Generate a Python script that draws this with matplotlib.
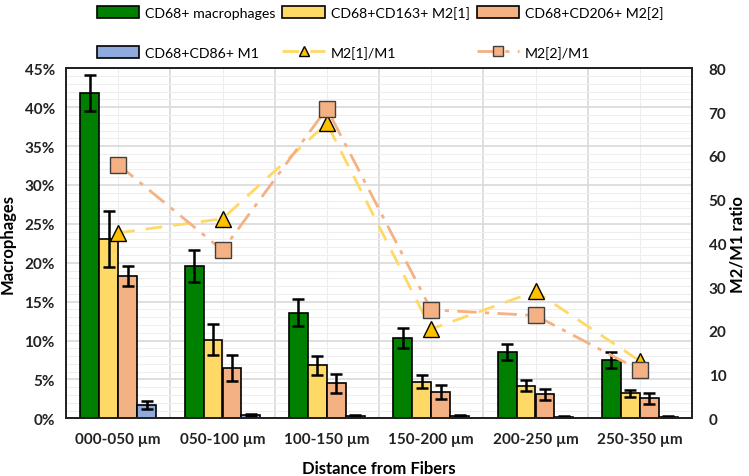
import numpy as np
import matplotlib.pyplot as plt
from matplotlib.ticker import MultipleLocator, PercentFormatter

plt.rcParams['font.family'] = ['Lato', 'DejaVu Sans']
plt.rcParams['font.weight'] = 'bold'

# data
groups = ["000-050 µm", "050-100 µm", "100-150 µm", "150-200 µm", "200-250 µm", "250-350 µm"]
cd68 = [41.8, 19.6, 13.6, 10.3, 8.5, 7.5]
cd68_err = [2.3, 2.1, 1.7, 1.3, 1.0, 1.0]
m2a = [23.1, 10.1, 6.8, 4.7, 4.2, 3.2]
m2a_err = [3.6, 2.0, 1.2, 0.85, 0.7, 0.45]
m2b = [18.3, 6.45, 4.5, 3.4, 3.1, 2.6]
m2b_err = [1.3, 1.7, 1.2, 0.9, 0.7, 0.7]
m1 = [1.7, 0.4, 0.3, 0.35, 0.2, 0.2]
m1_err = [0.55, 0.15, 0.1, 0.1, 0.05, 0.08]
ratio_a = [42.4, 45.6, 67.4, 20.4, 29.0, 13.1]
ratio_b = [58.0, 38.4, 70.8, 24.8, 23.5, 11.0]

green = "#008000"
yellow = "#FFD966"
orange = "#F4B183"
blue = "#8FAADC"

fig = plt.figure(figsize=(7.49, 4.77), dpi=100)
ax = fig.add_axes([66/749, 1-419.3/477, 626/749, 350/477])
ax2 = ax.twinx()

x = np.arange(len(groups))
w = 0.182
ekw = dict(elinewidth=1.8, capsize=4, capthick=1.8, ecolor="black")
b1 = ax.bar(x - 1.5*w, cd68, w, yerr=cd68_err, color=green, edgecolor="black", lw=1.2, error_kw=ekw, label="CD68+ macrophages", zorder=3)
b2 = ax.bar(x - 0.5*w, m2a, w, yerr=m2a_err, color=yellow, edgecolor="black", lw=1.2, error_kw=ekw, label="CD68+CD163+ M2[1]", zorder=3)
b3 = ax.bar(x + 0.5*w, m2b, w, yerr=m2b_err, color=orange, edgecolor="black", lw=1.2, error_kw=ekw, label="CD68+CD206+ M2[2]", zorder=3)
b4 = ax.bar(x + 1.5*w, m1, w, yerr=m1_err, color=blue, edgecolor="black", lw=1.2, error_kw=ekw, label="CD68+CD86+ M1", zorder=3)

l1, = ax2.plot(x, ratio_a, ls=(0, (6, 4)), color=yellow, lw=2, marker="^", ms=11,
               mfc="#FFC000", mec="black", mew=1, label="M2[1]/M1")
l2, = ax2.plot(x, ratio_b, ls=(0, (7, 3, 1.5, 3)), color=orange, lw=2, marker="s", ms=11,
               mfc=orange, mec="#404040", mew=1, label="M2[2]/M1")

ax.set_xlim(-0.5, len(groups) - 0.5)
ax.set_ylim(0, 45)
ax2.set_ylim(0, 80)
ax.yaxis.set_major_locator(MultipleLocator(5))
ax.yaxis.set_minor_locator(MultipleLocator(1))
ax.yaxis.set_major_formatter(PercentFormatter(decimals=0))
ax2.yaxis.set_major_locator(MultipleLocator(10))
ax.set_xticks(x)
ax.set_xticks(np.arange(-0.5, len(groups)), minor=True)
ax.set_xticklabels(groups, fontsize=11, fontweight="bold", color="#222222")

ax.grid(which="major", axis="y", color="#d9d9d9", lw=1.2, zorder=0)
ax.grid(which="minor", axis="y", color="#eeeeee", lw=0.8, zorder=0)
ax.grid(which="minor", axis="x", color="#d9d9d9", lw=1.2, zorder=0)
ax.grid(which="major", axis="x", color="#eeeeee", lw=0.8, zorder=0)
ax.set_axisbelow(True)

ax.tick_params(which="both", length=0)
ax2.tick_params(which="both", length=0)
ax.tick_params(axis="y", labelsize=11, labelcolor="#222222", pad=8)
ax.tick_params(axis="x", pad=10)
ax2.tick_params(axis="y", labelsize=11, labelcolor="#222222", pad=12)
for t in ax.get_yticklabels() + ax2.get_yticklabels():
    t.set_fontweight("bold")

for a in (ax, ax2):
    for s in a.spines.values():
        s.set_linewidth(1.3)
        s.set_color("#222222")

ax.set_xlabel("Distance from Fibers", fontsize=12, fontweight="bold", labelpad=10)
ax.set_ylabel("Macrophages", fontsize=12, fontweight="bold", labelpad=6)
ax2.set_ylabel("M2/M1 ratio", fontsize=12, fontweight="bold", labelpad=2)

# legend fills column by column, so order it to read row-wise
handles = [b1, b4, b2, l1, b3, l2]
labels = [h.get_label() for h in handles]
fig.legend(handles, labels, ncol=3, loc="upper left", bbox_to_anchor=(84/749, 1.012),
           frameon=False, handlelength=3.0, handleheight=0.9, markerscale=0.6,
           columnspacing=0.5, handletextpad=0.4, labelspacing=1.9,
           prop={"weight": "normal", "size": 10.2})

fig.savefig("out.png", dpi=100)
